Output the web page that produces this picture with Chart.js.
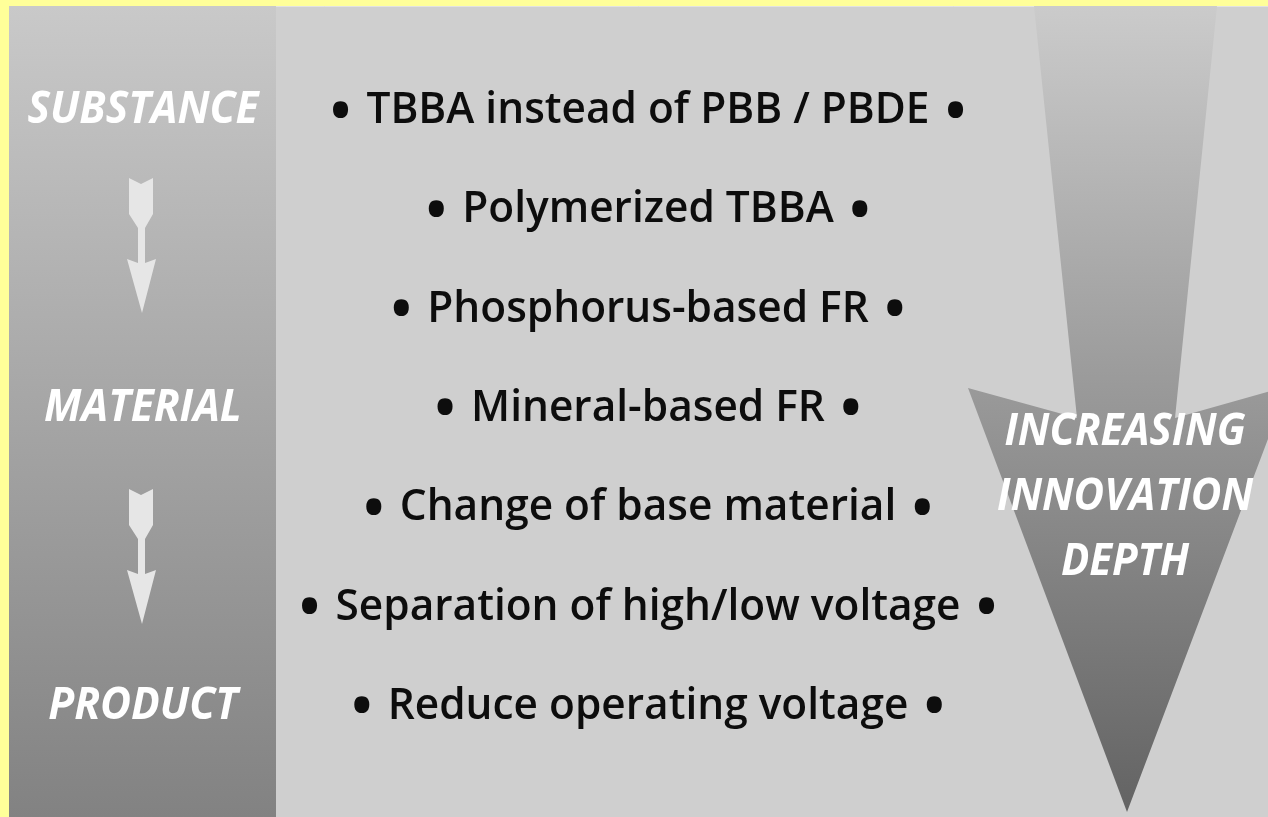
<!DOCTYPE html>
<html>
<head>
<meta charset="utf-8">
<script src="https://cdn.jsdelivr.net/npm/chart.js@4"></script>
<style>
  html, body { margin: 0; padding: 0; background: #ffff99; overflow: hidden; }
  #contenedor { width: 1268px; height: 817px; position: relative; }
</style>
</head>
<body>
<div id="contenedor"><canvas id="diagrama"></canvas></div>
<script>
// Etapas de la columna izquierda y la fila donde va cada una
const etapas = ['SUBSTANCE', 'MATERIAL', 'PRODUCT'];
const filasEtapas = [0, 3, 6];

// Medidas de la columna central (una por fila)
const medidas = [
  'TBBA instead of PBB / PBDE',
  'Polymerized TBBA',
  'Phosphorus-based FR',
  'Mineral-based FR',
  'Change of base material',
  'Separation of high/low voltage',
  'Reduce operating voltage'
];
const filasMedidas = [0, 1, 2, 3, 4, 5, 6];

// Rótulo de la flecha grande
const rotuloFlecha = ['INCREASING', 'INNOVATION', 'DEPTH'];

// Geometría de las formas (en unidades de los ejes x: 0..1268, y: 0..817)
const columnaIzq = [{x: 9, y: 6}, {x: 9, y: 817}, {x: 276, y: 817}, {x: 276, y: 6}];
const flechaGrande = [
  {x: 968, y: 388}, {x: 1127, y: 812}, {x: 1288, y: 386}, {x: 1175, y: 418},
  {x: 1217, y: 6}, {x: 1034, y: 6}, {x: 1077, y: 418}
];
const flechaChica = [ // relativa al borde superior
  {x: 129, y: 0}, {x: 141, y: 6}, {x: 153, y: 0}, {x: 153, y: 36}, {x: 145, y: 50},
  {x: 145, y: 85}, {x: 156, y: 81}, {x: 142, y: 135}, {x: 127, y: 81}, {x: 138, y: 85},
  {x: 138, y: 50}, {x: 129, y: 36}
];
const topesFlechasChicas = [178, 489];

function degradado(chart, y0, y1, c0, c1) {
  const {ctx, scales, chartArea} = chart;
  if (!chartArea || !scales.y) return c1;
  const p0 = scales.y.getPixelForValue(y0);
  const p1 = scales.y.getPixelForValue(y1);
  if (!isFinite(p0) || !isFinite(p1)) return c1;
  const g = ctx.createLinearGradient(0, p0, 0, p1);
  g.addColorStop(0, c0);
  g.addColorStop(1, c1);
  return g;
}

function poligono(puntos, color) {
  return {
    type: 'line',
    data: puntos,
    fill: 'shape',
    backgroundColor: color,
    borderColor: 'rgba(0,0,0,0)',
    borderWidth: 0,
    pointRadius: 0,
    tension: 0,
    xAxisID: 'x',
    yAxisID: 'y'
  };
}

const datasets = [];
// flechas chicas (van primero para quedar encima)
topesFlechasChicas.forEach(tope => {
  datasets.push(poligono(flechaChica.map(p => ({x: p.x, y: p.y + tope})), '#e6e6e6'));
});
datasets.push(poligono(columnaIzq, c => degradado(c.chart, 6, 817, '#c9c9c9', '#828282')));
datasets.push(poligono(flechaGrande, c => degradado(c.chart, 6, 812, '#cbcbcb', '#636363')));

// Escribe un texto centrado, comprimido en horizontal
function escribir(ctx, texto, x, y, escala) {
  ctx.save();
  ctx.translate(x, y);
  ctx.scale(escala, 1);
  ctx.fillText(texto, 0, 0);
  ctx.restore();
}

const fuenteMedidas = '600 43px "Open Sans", "Noto Sans", sans-serif';
const fuenteViñeta = '72px "Open Sans", "Noto Sans", sans-serif';
const fuenteRotulos = 'italic bold 44px "Open Sans", "Noto Sans", sans-serif';

const pluginTextos = {
  id: 'textos',
  beforeDraw(chart) {
    const {ctx, scales} = chart;
    const {x, y} = scales;
    ctx.save();
    ctx.fillStyle = '#ffff99';
    ctx.fillRect(0, 0, chart.width, chart.height);
    ctx.fillStyle = '#cfcfcf';
    ctx.fillRect(x.getPixelForValue(9), y.getPixelForValue(6), chart.width, chart.height);
    ctx.strokeStyle = '#e2e2e2';
    ctx.lineWidth = 1;
    ctx.beginPath();
    ctx.moveTo(x.getPixelForValue(9) + 0.5, chart.height);
    ctx.lineTo(x.getPixelForValue(9) + 0.5, y.getPixelForValue(6) + 0.5);
    ctx.lineTo(chart.width, y.getPixelForValue(6) + 0.5);
    ctx.stroke();
    ctx.restore();
  },
  afterDatasetsDraw(chart) {
    const {ctx, scales} = chart;
    const {x, y, fila} = scales;
    ctx.save();
    ctx.textAlign = 'center';
    ctx.textBaseline = 'alphabetic';

    // medidas, con viñetas a ambos lados
    ctx.fillStyle = '#0d0d0d';
    ctx.font = fuenteMedidas;
    const escalaMedidas = 625 / ctx.measureText(medidas[5]).width;
    ctx.font = fuenteViñeta;
    const mv = ctx.measureText('•');
    const desplV = (mv.actualBoundingBoxAscent - mv.actualBoundingBoxDescent) / 2;
    const cx = x.getPixelForValue(648);
    medidas.forEach((m, i) => {
      const cy = fila.getPixelForValue(filasMedidas[i]);
      ctx.font = fuenteMedidas;
      const ancho = ctx.measureText(m).width * escalaMedidas;
      escribir(ctx, m, cx, cy + 15, escalaMedidas);
      ctx.font = fuenteViñeta;
      const sep = ancho / 2 + 26;
      ctx.fillText('•', cx - sep, cy + 1 + desplV);
      ctx.fillText('•', cx + sep, cy + 1 + desplV);
    });

    // etapas
    ctx.font = fuenteRotulos;
    ctx.fillStyle = '#ffffff';
    const escalaEtapas = 231 / ctx.measureText(etapas[0]).width;
    etapas.forEach((e, i) => {
      escribir(ctx, e, x.getPixelForValue(143), fila.getPixelForValue(filasEtapas[i]) + 15, escalaEtapas);
    });

    // rótulo de la flecha
    const escalaFlecha = 256 / ctx.measureText(rotuloFlecha[1]).width;
    const lineasY = [430, 495, 560];
    rotuloFlecha.forEach((r, i) => {
      escribir(ctx, r, x.getPixelForValue(1125), y.getPixelForValue(lineasY[i]) + 15, escalaFlecha);
    });
    ctx.restore();
  }
};

new Chart(document.getElementById('diagrama'), {
  type: 'scatter',
  data: { datasets: datasets },
  options: {
    responsive: true,
    maintainAspectRatio: false,
    animation: false,
    events: [],
    layout: { padding: 0 },
    scales: {
      x: { type: 'linear', axis: 'x', position: 'bottom', min: 0, max: 1268, display: false },
      y: { type: 'linear', axis: 'y', position: 'left', min: 0, max: 817, reverse: true, display: false },
      fila: { type: 'linear', axis: 'y', position: 'left', min: -1.0873, max: 7.1379, reverse: true, display: false }
    },
    plugins: {
      legend: { display: false },
      tooltip: { enabled: false },
      title: { display: false }
    }
  },
  plugins: [pluginTextos]
});
</script>
</body>
</html>
